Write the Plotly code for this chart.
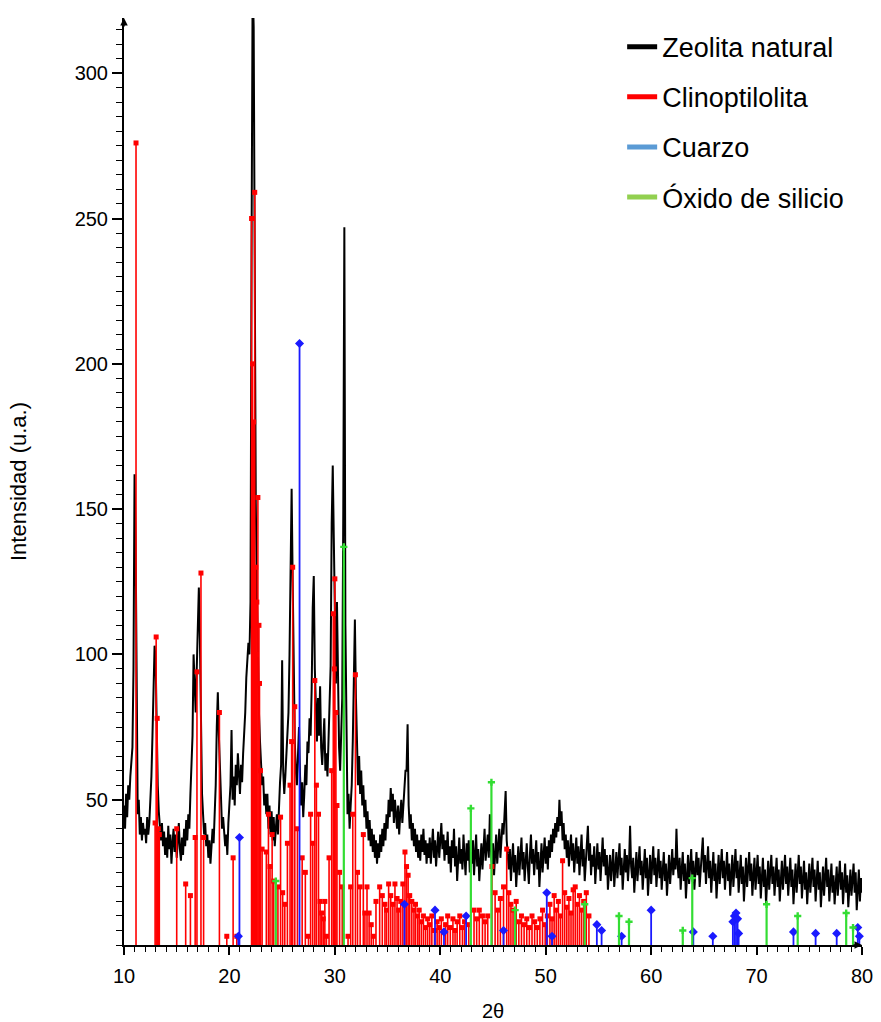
import plotly.graph_objects as go
import numpy as np

# ---------------- data ----------------
theta_start = 10.0
theta_step = 0.1

# Zeolita natural: intensity sampled every 0.1 deg from 10.0 to 80.0 (rows = one degree)
zeolita_rows = [
    [48, 40, 52, 44, 55, 50, 58, 62, 68, 95],        # 10
    [162, 140, 70, 45, 50, 38, 44, 36, 42, 38],      # 11
    [40, 35, 44, 38, 42, 48, 58, 72, 90, 103],       # 12
    [98, 75, 55, 46, 40, 36, 42, 34, 39, 31],        # 13
    [37, 30, 41, 33, 38, 28, 35, 40, 32, 38],        # 14
    [30, 36, 42, 33, 29, 37, 31, 40, 34, 43],        # 15
    [36, 45, 40, 52, 60, 72, 100, 88, 80, 95],       # 16
    [110, 123, 105, 70, 52, 45, 38, 42, 34, 38],     # 17
    [30, 36, 28, 34, 40, 35, 45, 55, 75, 87],        # 18
    [72, 60, 48, 40, 44, 40, 34, 38, 31, 42],        # 19
    [48, 55, 74, 50, 58, 48, 62, 55, 66, 58],        # 20
    [52, 62, 56, 66, 72, 80, 92, 98, 104, 100],      # 21
    [118, 240, 330, 316, 205, 152, 122, 96, 80, 70], # 22
    [62, 55, 58, 48, 52, 45, 52, 40, 48, 38],        # 23
    [46, 36, 44, 34, 40, 45, 38, 50, 56, 62],        # 24
    [98, 60, 52, 58, 66, 72, 80, 100, 140, 157],     # 25
    [125, 90, 70, 60, 55, 65, 75, 58, 48, 56],       # 26
    [44, 52, 62, 55, 70, 66, 78, 72, 88, 116],       # 27
    [127, 95, 82, 70, 85, 72, 89, 68, 62, 70],       # 28
    [78, 60, 66, 58, 70, 78, 96, 145, 165, 140],     # 29
    [110, 90, 118, 80, 68, 60, 72, 85, 150, 247],    # 30
    [110, 60, 45, 52, 40, 48, 55, 70, 95, 112],      # 31
    [85, 62, 55, 65, 52, 60, 48, 55, 44, 50],        # 32
    [40, 46, 36, 43, 34, 40, 32, 38, 30, 36],        # 33
    [28, 35, 30, 38, 32, 40, 34, 42, 36, 45],        # 34
    [40, 50, 44, 54, 46, 52, 42, 50, 45, 40],        # 35
    [48, 38, 45, 50, 42, 48, 55, 60, 60, 76],        # 36
    [48, 40, 45, 36, 42, 34, 40, 32, 38, 30],        # 37
    [36, 29, 38, 32, 40, 31, 36, 28, 35, 30],        # 38
    [37, 28, 34, 40, 30, 36, 27, 33, 39, 30],        # 39
    [35, 42, 33, 38, 29, 36, 31, 39, 28, 34],        # 40
    [25, 36, 30, 40, 27, 34, 22, 31, 37, 28],        # 41
    [33, 26, 38, 30, 24, 35, 29, 36, 25, 32],        # 42
    [28, 36, 24, 31, 38, 27, 33, 22, 30, 35],        # 43
    [26, 32, 40, 29, 35, 38, 30, 45, 33, 27],        # 44
    [35, 24, 31, 38, 28, 34, 40, 30, 36, 42],        # 45
    [38, 47, 53, 36, 30, 26, 33, 22, 29, 35],        # 46
    [25, 31, 20, 28, 34, 24, 30, 37, 26, 32],        # 47
    [22, 29, 35, 27, 21, 31, 38, 28, 33, 24],        # 48
    [30, 36, 26, 32, 20, 28, 35, 25, 31, 37],        # 49
    [28, 34, 26, 36, 30, 38, 32, 40, 35, 42],        # 50
    [37, 44, 39, 50, 41, 46, 36, 42, 33, 38],        # 51
    [30, 36, 27, 33, 38, 29, 35, 25, 32, 37],        # 52
    [28, 34, 24, 31, 38, 27, 33, 22, 30, 36],        # 53
    [41, 29, 35, 24, 31, 27, 34, 21, 29, 35],        # 54
    [26, 32, 22, 30, 37, 27, 33, 24, 31, 19],        # 55
    [25, 31, 22, 27, 33, 20, 26, 32, 23, 29],        # 56
    [35, 24, 30, 19, 27, 33, 25, 31, 22, 28],        # 57
    [41, 27, 23, 30, 18, 26, 32, 22, 28, 34],        # 58
    [24, 29, 19, 27, 33, 23, 30, 17, 25, 31],        # 59
    [21, 28, 34, 24, 30, 20, 27, 33, 23, 29],        # 60
    [19, 26, 32, 22, 28, 17, 25, 31, 21, 27],        # 61
    [33, 24, 30, 26, 40, 28, 23, 30, 19, 26],        # 62
    [32, 22, 28, 16, 25, 31, 21, 27, 33, 23],        # 63
    [29, 19, 26, 32, 24, 30, 20, 27, 33, 37],        # 64
    [25, 31, 21, 28, 34, 23, 29, 18, 26, 32],        # 65
    [22, 28, 16, 25, 31, 21, 27, 33, 23, 29],        # 66
    [19, 26, 32, 22, 28, 17, 25, 31, 20, 27],        # 67
    [33, 23, 29, 18, 25, 31, 21, 27, 15, 24],        # 68
    [30, 20, 26, 32, 22, 28, 17, 24, 30, 19],        # 69
    [25, 31, 21, 27, 16, 24, 30, 20, 26, 14],        # 70
    [23, 29, 19, 25, 31, 21, 27, 17, 24, 30],        # 71
    [20, 26, 15, 23, 29, 19, 25, 31, 21, 27],        # 72
    [17, 24, 30, 20, 26, 14, 22, 28, 18, 25],        # 73
    [31, 21, 27, 16, 23, 29, 19, 25, 14, 22],        # 74
    [28, 18, 24, 30, 20, 26, 15, 23, 29, 19],        # 75
    [25, 13, 21, 27, 17, 24, 30, 20, 26, 15],        # 76
    [22, 28, 18, 24, 14, 21, 27, 17, 23, 29],        # 77
    [19, 25, 14, 22, 28, 18, 24, 13, 20, 26],        # 78
    [17, 23, 28, 18, 25, 12, 20, 26, 15, 23],        # 79
    [18],                                            # 80
]

# Clinoptilolita reference pattern (2theta, intensity)
clino_pos = [11.14, 12.95, 13.05, 13.15, 13.25, 13.35, 15.0, 15.85, 16.3, 16.75,
             16.92, 17.3, 17.55, 19.05, 19.75, 20.35, 20.7, 22.1, 22.2, 22.3,
             22.4, 22.5, 22.55, 22.6, 22.7, 22.8, 22.85, 22.95, 23.1, 23.5,
             23.7, 23.85, 24.05, 24.2, 24.6, 24.85, 25.05, 25.25, 25.5, 25.75,
             25.9, 26.0, 26.2, 26.45, 26.9, 27.2, 27.5, 27.7, 27.9, 28.1,
             28.25, 28.45, 28.6, 28.75, 28.9, 29.05, 29.2, 29.45, 29.7, 29.85,
             29.95, 30.0, 30.1, 30.2, 30.45, 30.7, 31.25, 31.5, 31.7, 31.95,
             32.15, 32.4, 32.7, 32.85, 33.05, 33.25, 33.45, 33.65, 33.9, 34.25,
             34.5, 34.75, 34.9, 35.1, 35.3, 35.5, 35.7, 35.9, 36.05, 36.25,
             36.45, 36.65, 36.8, 36.95, 37.1, 37.3, 37.5, 37.65, 37.85, 38.0,
             38.2, 38.4, 38.6, 38.8, 39.0, 39.2, 39.45, 39.7, 39.9, 40.1,
             40.5, 40.7, 40.95, 41.2, 41.4, 41.6, 41.85, 42.1, 42.3, 42.7,
             43.2, 43.45, 43.7, 44.0, 44.25, 44.5, 44.9, 45.2, 45.45, 45.7,
             46.0, 46.3, 46.5, 46.7, 46.9, 47.2, 47.45, 47.7, 47.95, 48.2,
             48.45, 48.7, 48.95, 49.2, 49.45, 49.7, 49.95, 50.15, 50.4, 50.6,
             50.8, 51.0, 51.2, 51.4, 51.6, 51.8, 52.0, 52.2, 52.4, 52.6,
             52.8, 53.0, 53.2, 53.4, 53.6, 53.85, 54.1]
clino_int = [276, 42, 106, 78, 40, 38, 40, 21, 17, 37,
             94, 128, 37, 80, 3, 30, 3, 250, 200, 180,
             259, 130, 100, 118, 154, 110, 90, 60, 33, 32,
             45, 27, 38, 22, 20, 44, 18, 14, 35, 55,
             70, 130, 82, 40, 30, 25, 3, 45, 35, 91,
             55, 45, 15, 11, 9, 15, 3, 30, 60, 114,
             95, 126, 80, 48, 25, 20, 3, 20, 45, 93,
             25, 20, 38, 11, 20, 11, 7, 3, 15, 20,
             17, 14, 12, 21, 17, 14, 21, 16, 12, 15,
             21, 32, 27, 24, 17, 15, 12, 14, 10, 12,
             8, 10, 6, 9, 7, 10, 5, 8, 6, 9,
             7, 10, 6, 9, 5, 8, 10, 6, 8, 7,
             12, 9, 12, 10, 8, 10, 27, 18, 12, 16,
             20, 33, 18, 14, 12, 15, 8, 10, 7, 9,
             6, 10, 8, 6, 9, 12, 7, 10, 14, 9,
             17, 12, 15, 10, 29, 18, 13, 16, 11, 19,
             20, 14, 17, 12, 15, 18, 10]

# Cuarzo reference pattern
cuarzo_pos = [20.85, 20.95, 26.65, 36.6, 39.5, 40.35, 42.45, 46.0, 50.1, 50.6,
              54.85, 55.3, 57.2, 60.0, 64.0, 65.85, 67.75, 67.9, 68.05, 68.2,
              68.3, 73.5, 75.6, 77.6, 79.6, 79.75]
cuarzo_int = [3, 37, 207, 14, 12, 4.5, 10, 5, 18, 3,
              7, 5, 3, 12, 4.5, 3, 8, 10, 11, 9,
              4, 4.5, 4, 4, 6, 3]

# Oxido de silicio reference pattern
oxido_pos = [24.4, 30.85, 42.9, 44.85, 47.1, 53.7, 56.95, 57.9, 63.0, 63.9,
             70.95, 73.9, 78.5, 79.15]
oxido_int = [22, 137, 47, 56, 12, 14, 10, 8, 5, 23,
             14, 10, 11, 6]

series_names = ["Zeolita natural", "Clinoptilolita", "Cuarzo", "Óxido de silicio"]
legend_colors = ["#000000", "#ff0000", "#5b9bd5", "#92d050"]
x_ticks = [10, 20, 30, 40, 50, 60, 70, 80]
y_ticks = [50, 100, 150, 200, 250, 300]

# ---------------- build ----------------
zeo_y = [v for row in zeolita_rows for v in row]
zeo_x = np.round(theta_start + theta_step * np.arange(len(zeo_y)), 2)


def sticks(pos, inten):
    xs, ys = [], []
    for p, h in zip(pos, inten):
        xs += [p, p, None]
        ys += [0, h, None]
    return xs, ys


FONT = "Liberation Sans, Arial, sans-serif"
fig = go.Figure()

fig.add_trace(go.Scatter(x=zeo_x, y=zeo_y, mode="lines",
                         line=dict(color="#000000", width=2),
                         showlegend=False, hoverinfo="skip"))

for pos, inten, col, sym, msize, lw in [
    (clino_pos, clino_int, "#ff0000", "square", 5, 1.6),
    (cuarzo_pos, cuarzo_int, "#1a1aff", "diamond", 7, 1.8),
    (oxido_pos, oxido_int, "#33dd33", "cross", 6, 2.2),
]:
    sx, sy = sticks(pos, inten)
    fig.add_trace(go.Scatter(x=sx, y=sy, mode="lines",
                             line=dict(color=col, width=lw),
                             showlegend=False, hoverinfo="skip"))
    fig.add_trace(go.Scatter(x=pos, y=inten, mode="markers",
                             marker=dict(color=col, symbol=sym, size=msize,
                                         line=dict(width=0)),
                             showlegend=False, hoverinfo="skip", cliponaxis=False))

for name, col in zip(series_names, legend_colors):
    fig.add_trace(go.Scatter(x=[None], y=[None], mode="lines", name=name,
                             legendgroup=name,
                             line=dict(color=col, width=5)))

axis_common = dict(showline=True, linecolor="black", linewidth=2,
                   ticks="outside", tickcolor="black", tickwidth=1.5,
                   showgrid=False, zeroline=False, mirror=False,
                   automargin=False,
                   tickfont=dict(family=FONT, size=20, color="black"))

fig.update_xaxes(range=[10, 80], tickvals=x_ticks, ticklen=8,
                 ticklabelstandoff=4,
                 minor=dict(dtick=1, ticks="outside", ticklen=5,
                            tickcolor="black", tickwidth=1.2),
                 title=dict(text="2θ", font=dict(family=FONT, size=20, color="black"),
                            standoff=22),
                 **axis_common)
fig.update_yaxes(range=[0, 319], tickvals=y_ticks, ticklen=10,
                 minor=dict(dtick=5, ticks="outside", ticklen=6,
                            tickcolor="black", tickwidth=1.2),
                 title=dict(text="Intensidad (u.a.)",
                            font=dict(family=FONT, size=22, color="black"),
                            standoff=42),
                 **axis_common)

fig.add_annotation(x=10, y=319, ax=0, ay=10, text="", showarrow=True,
                   arrowhead=2, arrowsize=1, arrowwidth=1.5, arrowcolor="black")
fig.add_annotation(x=80, y=0, ax=-10, ay=0, text="", showarrow=True,
                   arrowhead=2, arrowsize=1, arrowwidth=1.5, arrowcolor="black")

fig.update_layout(
    width=881, height=1022,
    margin=dict(l=124, r=19, t=18, b=77),
    paper_bgcolor="white", plot_bgcolor="white",
    showlegend=True,
    legend=dict(x=0.675, y=0.995, xanchor="left", yanchor="top",
                font=dict(family=FONT, size=27, color="black"),
                traceorder="grouped", tracegroupgap=12,
                bgcolor="rgba(0,0,0,0)", borderwidth=0),
)

fig.write_html("out.html")
